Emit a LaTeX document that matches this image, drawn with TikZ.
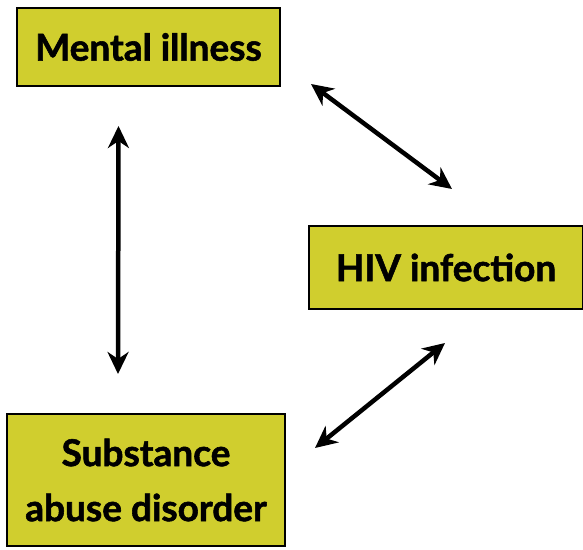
\documentclass[tikz,border=0pt]{standalone}
\usepackage{fontspec}
\setmainfont{Lato}[BoldFeatures={FakeBold=1.5}]
\usepackage{xcolor}
\usepackage{tikz}
\usetikzlibrary{shapes,arrows.meta,positioning}
\definecolor{boxfill}{HTML}{D0CE2E}
\tikzstyle{box} = [draw=black, line width=2pt, fill=boxfill, align=center, font=\fontsize{37}{55}\selectfont\bfseries, inner sep=0pt]
\tikzstyle{biarrow} = [line width=4.5pt, {Stealth[length=22pt,width=21pt,inset=7pt]}-{Stealth[length=22pt,width=21pt,inset=7pt]}]

\begin{document}
\begin{tikzpicture}[x=1pt, y=1pt]
    \useasboundingbox (0,0) rectangle (583,549);
    % boxes
    \node[box, minimum width=263pt, minimum height=78pt] (mental) at (148.5,502) {Mental illness};
    \node[box, minimum width=274pt, minimum height=83pt] (hiv) at (446,281.5) {HIV infection};
    \node[box, minimum width=278pt, minimum height=132pt] (subst) at (146,69) {Substance\\abuse disorder};

    % two-way links
    \draw[biarrow] ([xshift=-30pt,yshift=-39pt]mental.south) -- ([xshift=-28pt,yshift=39pt]subst.north);
    \draw[biarrow] ([xshift=30pt,yshift=3pt]mental.south east) -- ([xshift=144pt,yshift=36pt]hiv.north west);
    \draw[biarrow] ([xshift=29pt,yshift=-35pt]subst.north east) -- ([xshift=137pt,yshift=-33pt]hiv.south west);
\end{tikzpicture}
\end{document}
